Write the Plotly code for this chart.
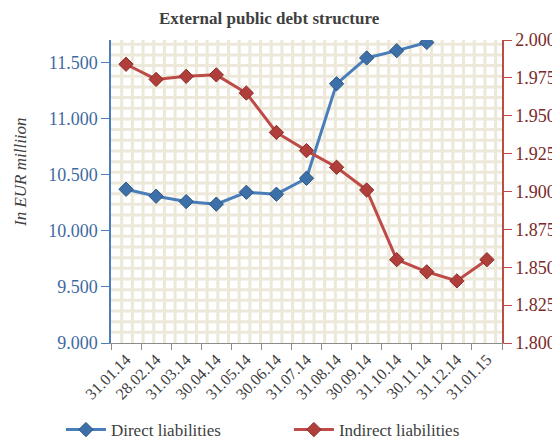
import plotly.graph_objects as go

dates = ["31.01.14", "28.02.14", "31.03.14", "30.04.14", "31.05.14", "30.06.14",
         "31.07.14", "31.08.14", "30.09.14", "31.10.14", "30.11.14", "31.12.14",
         "31.01.15"]
direct = [10370, 10308, 10260, 10237, 10343, 10326, 10468, 11310, 11540,
          11605, 11678, None, None]
indirect = [1984, 1974, 1976, 1977, 1965, 1939, 1927, 1916, 1901, 1855,
            1847, 1841, 1855]

serif = "Liberation Serif, Times New Roman, serif"
blue, red = "#4a7ebb", "#be4b48"

fig = go.Figure()
fig.add_trace(go.Scatter(
    x=dates, y=direct, mode="lines+markers", name="Direct liabilities",
    legend="legend", showlegend=True,
    line=dict(color=blue, width=3),
    marker=dict(symbol="diamond", size=11, color="#3d6fa8",
                line=dict(color="#2c5584", width=1)),
))
fig.add_trace(go.Scatter(
    x=dates, y=indirect, mode="lines+markers", name="Indirect liabilities",
    yaxis="y2", legend="legend2", showlegend=True,
    line=dict(color=red, width=3),
    marker=dict(symbol="diamond", size=11, color="#b03e3b",
                line=dict(color="#8a2b28", width=1)),
))

# background pattern grid (Excel-like small grid fill)
ncols, nrows = 36.6, 28.4
for k in range(1, 37):
    fig.add_shape(type="line", xref="x domain", yref="y domain",
                  x0=k / ncols, x1=k / ncols, y0=0, y1=1, layer="below",
                  line=dict(color="#ece8da", width=3))
for k in range(1, 29):
    fig.add_shape(type="line", xref="x domain", yref="y domain",
                  x0=0, x1=1, y0=k / nrows, y1=k / nrows, layer="below",
                  line=dict(color="#ece8da", width=3))

# y axis title as annotation so it sits where the original has it
fig.add_annotation(text="<i>In EUR milliion</i>", xref="paper", yref="paper",
                   x=-0.233, y=0.564, xanchor="center", yanchor="middle",
                   textangle=-90, showarrow=False,
                   font=dict(family=serif, size=17, color="#404040"))

leg = dict(orientation="h", xanchor="left", yref="container", y=0,
           yanchor="bottom", bgcolor="rgba(0,0,0,0)", itemwidth=40,
           font=dict(family=serif, size=17, color="#404040"))

# page body has an 8px margin, so the figure is 552x440
fig.update_layout(
    width=552, height=440,
    showlegend=True,
    separators=",.",
    paper_bgcolor="white", plot_bgcolor="white",
    margin=dict(l=103, r=58, t=32, b=105),
    title=dict(text="<b>External public debt structure</b>", x=0.473,
               y=0.99, xanchor="center", yanchor="top",
               font=dict(family=serif, size=17, color="#404040")),
    font=dict(family=serif, color="#404040"),
    xaxis=dict(type="category", range=[-0.5, 12.5], showgrid=False,
               zeroline=False, showline=True, linecolor="#8c8c8c",
               linewidth=1, ticks="outside", ticklen=6, tickcolor="#8c8c8c",
               tickson="boundaries", tickangle=-45, automargin=False,
               tickfont=dict(family=serif, size=16, color="#404040")),
    yaxis=dict(range=[9000, 11700], dtick=500, tickformat=",.0f",
               showgrid=False, zeroline=False, automargin=False,
               showline=True, linecolor=blue, linewidth=1.5,
               ticks="outside", ticklen=8, tickcolor=blue,
               tickfont=dict(family=serif, size=18, color="#3f6aa0")),
    yaxis2=dict(overlaying="y", side="right", anchor="x",
                range=[1800, 2000], dtick=25, tickformat=",.0f",
                showgrid=False, zeroline=False, automargin=False,
                showline=True, linecolor=red, linewidth=1.5,
                ticks="outside", ticklen=8, tickcolor=red,
                tickfont=dict(family=serif, size=18, color="#7a2a2a")),
    legend=dict(x=-0.128, **leg),
    legend2=dict(x=0.455, **leg),
)

fig.write_html("out.html")
